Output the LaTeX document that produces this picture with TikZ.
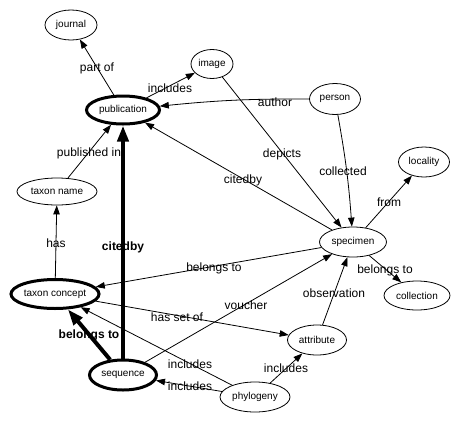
\documentclass[tikz,border=0pt]{standalone}
\usepackage{fontspec}
\setmainfont{Liberation Sans}
\usetikzlibrary{shapes.geometric,arrows.meta}
\tikzset{
  ent/.style={ellipse, draw, line width=0.8pt, inner sep=0pt, font=\fontsize{10}{12}\selectfont},
  keyent/.style={ent, line width=3pt},
  arr/.style={draw, line width=0.8pt, -{Triangle[length=9pt,width=6.5pt]}},
  bigarr/.style={draw, line width=4pt, -{Triangle[length=16pt,width=11pt]}},
  lbl/.style={inner sep=0pt, font=\fontsize{12}{14}\selectfont},
  blbl/.style={lbl, font=\fontsize{12}{14}\selectfont\bfseries}
}
\begin{document}
\begin{tikzpicture}[x=1pt,y=-1pt]
\useasboundingbox (0,0) rectangle (460,421);
% nodes
\node[ent, minimum width=52pt, minimum height=30pt] (journal) at (71,25) {journal};
\node[ent, minimum width=42pt, minimum height=29pt] (image) at (212,64) {image};
\node[keyent, minimum width=73pt, minimum height=28pt] (pub) at (123,110) {publication};
\node[ent, minimum width=51pt, minimum height=31pt] (person) at (335,99) {person};
\node[ent, minimum width=51pt, minimum height=30pt] (locality) at (424,162) {locality};
\node[ent, minimum width=80pt, minimum height=27pt] (tname) at (57,191.5) {taxon name};
\node[ent, minimum width=67pt, minimum height=30pt] (specimen) at (353,242) {specimen};
\node[ent, minimum width=66pt, minimum height=29pt] (collection) at (417,295.5) {collection};
\node[keyent, minimum width=88pt, minimum height=29pt] (tconcept) at (55,294) {taxon concept};
\node[ent, minimum width=59pt, minimum height=30pt] (attribute) at (317,340) {attribute};
\node[keyent, minimum width=67pt, minimum height=30pt] (sequence) at (123,375) {sequence};
\node[ent, minimum width=70pt, minimum height=30pt] (phylogeny) at (255,397) {phylogeny};
% thin edges
\draw[arr] (pub) -- (journal);
\draw[arr] (pub) -- (image);
\draw[arr] (person) to[bend right=3] (pub);
\draw[arr] (image) -- (specimen);
\draw[arr] (person) to[bend left=3] (specimen);
\draw[arr] (specimen) -- (pub);
\draw[arr] (specimen) -- (locality);
\draw[arr] (specimen) -- (collection);
\draw[arr] (specimen) -- (tconcept);
\draw[arr] (tconcept) -- (tname);
\draw[arr] (tname) -- (pub);
\draw[arr] (tconcept) -- (attribute);
\draw[arr] (sequence) -- (specimen);
\draw[arr] (attribute) -- (specimen);
\draw[arr] (phylogeny) -- (attribute);
\draw[arr] (phylogeny) -- (tconcept);
\draw[arr] (phylogeny) -- (sequence);
% thick edges
\draw[bigarr] (sequence) -- (pub);
\draw[bigarr] (sequence) -- (tconcept);
% labels
\node[lbl] (l1) at (97,68) {part of};
\node[lbl] (l2) at (170,88) {includes};
\node[lbl] (l3) at (275,102) {author};
\node[lbl] (l4) at (282,154) {depicts};
\node[lbl] (l5) at (343,171) {collected};
\node[lbl] (l6) at (243,180) {citedby};
\node[lbl] (l7) at (389,202) {from};
\node[lbl] (l8) at (385,270) {belongs to};
\node[lbl] (l9) at (214,268) {belongs to};
\node[lbl] (l10) at (246,305) {voucher};
\node[lbl] (l11) at (177,317) {has set of};
\node[lbl] (l12) at (334,293) {observation};
\node[lbl] (l13) at (286,368) {includes};
\node[lbl] (l14) at (190,364) {includes};
\node[lbl] (l15) at (190,386) {includes};
\node[lbl] (l16) at (56,243) {has};
\node[lbl] (l17) at (89,153) {published in};
\node[blbl] (l18) at (123,247) {citedby};
\node[blbl] (l19) at (89,335) {belongs to};
\end{tikzpicture}
\end{document}
